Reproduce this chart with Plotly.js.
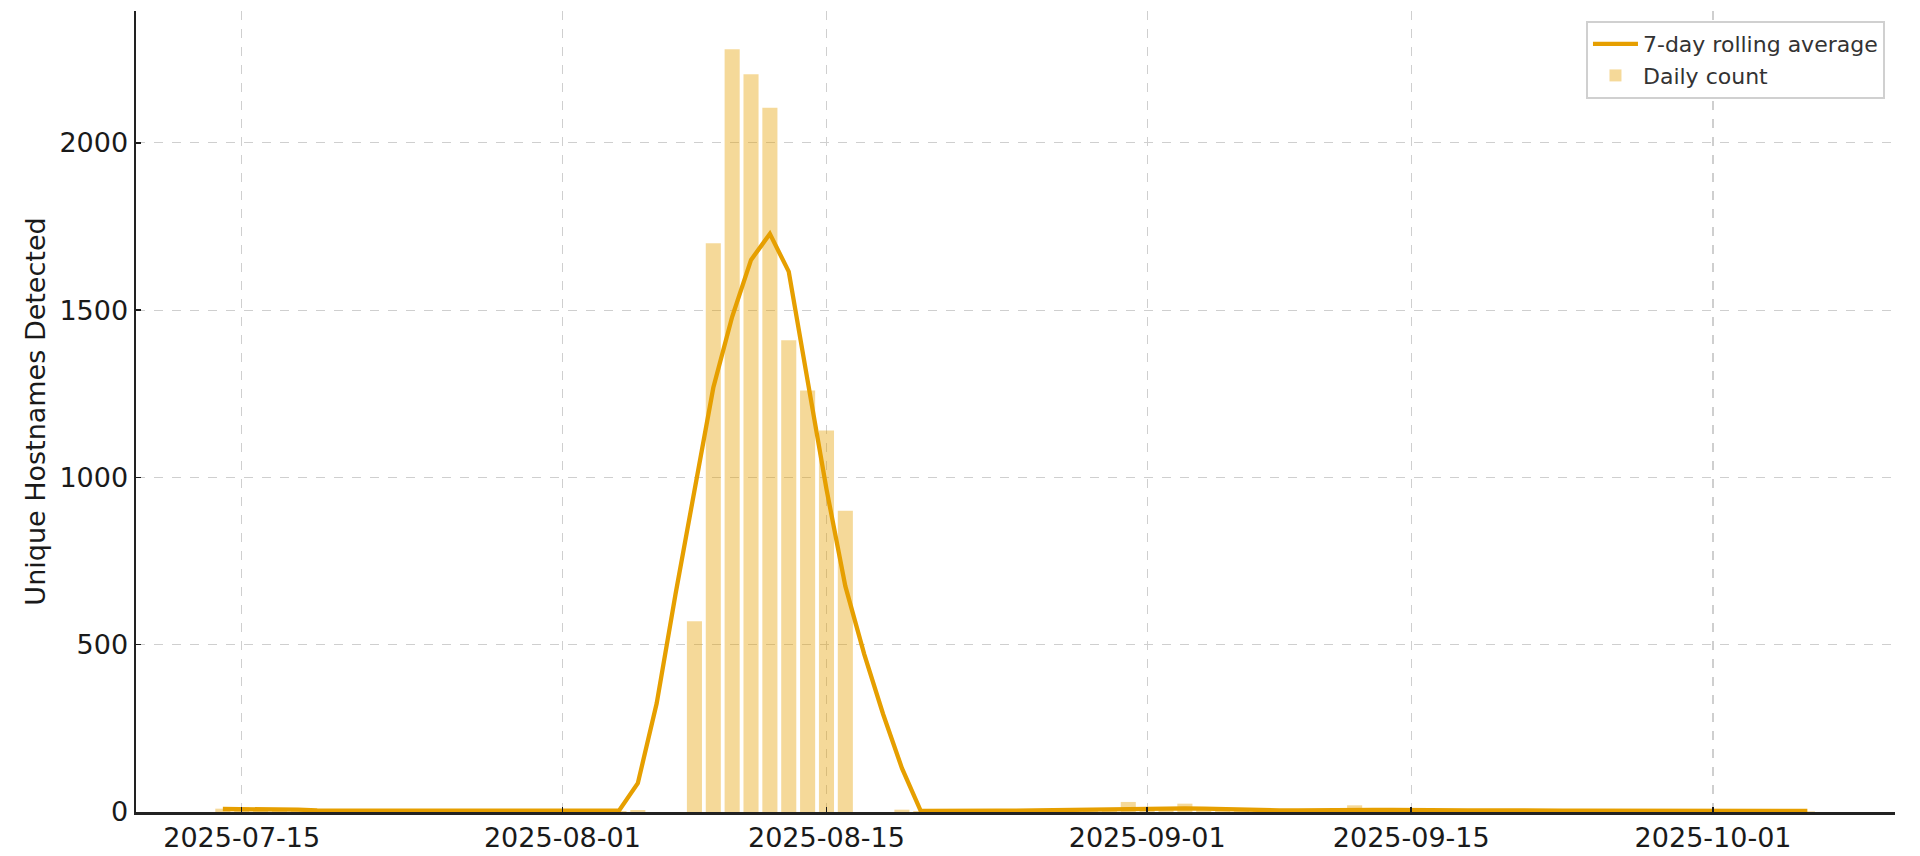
<!DOCTYPE html>
<html>
<head>
<meta charset="utf-8">
<script src="https://cdn.plot.ly/plotly-3.0.1.min.js"></script>
<style>
  html, body { margin: 0; padding: 0; background: #fff; }
  #chart { width: 1920px; height: 856px; }
</style>
</head>
<body>
<div id="chart"></div>
<script>
/*
 Data
*/

var days = [
  "2025-07-14","2025-07-15","2025-07-16","2025-07-17","2025-07-18","2025-07-19","2025-07-20",
  "2025-07-21","2025-07-22","2025-07-23","2025-07-24","2025-07-25","2025-07-26","2025-07-27",
  "2025-07-28","2025-07-29","2025-07-30","2025-07-31","2025-08-01","2025-08-02","2025-08-03",
  "2025-08-04","2025-08-05","2025-08-06","2025-08-07","2025-08-08","2025-08-09","2025-08-10",
  "2025-08-11","2025-08-12","2025-08-13","2025-08-14","2025-08-15","2025-08-16","2025-08-17",
  "2025-08-18","2025-08-19","2025-08-20","2025-08-21","2025-08-22","2025-08-23","2025-08-24",
  "2025-08-25","2025-08-26","2025-08-27","2025-08-28","2025-08-29","2025-08-30","2025-08-31",
  "2025-09-01","2025-09-02","2025-09-03","2025-09-04","2025-09-05","2025-09-06","2025-09-07",
  "2025-09-08","2025-09-09","2025-09-10","2025-09-11","2025-09-12","2025-09-13","2025-09-14",
  "2025-09-15","2025-09-16","2025-09-17","2025-09-18","2025-09-19","2025-09-20","2025-09-21",
  "2025-09-22","2025-09-23","2025-09-24","2025-09-25","2025-09-26","2025-09-27","2025-09-28",
  "2025-09-29","2025-09-30","2025-10-01","2025-10-02","2025-10-03","2025-10-04","2025-10-05",
  "2025-10-06"
];

var daily_count = [
  10, 14, 6, 6, 5, 4, 6,
  3, 3, 3, 2, 3, 2, 2,
  3, 2, 3, 4, 4, 5, 3,
  3, 6, 0, 0, 570, 1700, 2280,
  2205, 2105, 1410, 1260, 1140, 900, 0,
  0, 7, 3, 4, 2, 3, 3,
  4, 8, 6, 8, 10, 5, 30,
  6, 8, 25, 10, 6, 8, 4,
  5, 6, 3, 5, 20, 4, 5,
  3, 4, 6, 5, 4, 3, 5,
  4, 6, 3, 4, 5, 3, 6,
  5, 7, 6, 5, 4, 6, 3,
  2
];

var rolling_avg = [
  9, 9, 8, 8, 7, 5, 5,
  4, 3, 3, 3, 3, 3, 3,
  3, 3, 3, 4, 4, 4, 4,
  4, 86, 325, 652, 966, 1268, 1480,
  1650, 1728, 1615, 1289, 965, 675, 472,
  293, 131, 3, 4, 4, 4, 4,
  4, 5, 6, 7, 8, 8, 10,
  11, 12, 11, 10, 8, 7, 6,
  5, 5, 6, 6, 7, 6, 6,
  5, 4, 4, 5, 5, 4, 4,
  4, 4, 4, 4, 4, 5, 5,
  5, 5, 5, 5, 5, 4, 4,
  3
];

var tick_dates = ["2025-07-15","2025-08-01","2025-08-15","2025-09-01","2025-09-15","2025-10-01"];
var y_ticks = [0, 500, 1000, 1500, 2000];

/*
 Chart
*/

var ORANGE = "#E69F00";
var FONT = "DejaVu Sans, Liberation Sans, sans-serif";

var bars = {
  x: days,
  y: daily_count,
  type: "bar",
  name: "Daily count",
  width: 0.8 * 86400000,
  marker: { color: "rgba(230,159,0,0.4)", line: { width: 0 } },
  legendrank: 2
};

var line = {
  x: days,
  y: rolling_avg,
  type: "scatter",
  mode: "lines",
  name: "7-day rolling average",
  line: { color: ORANGE, width: 4.3 },
  legendrank: 1
};

var layout = {
  width: 1920,
  height: 856,
  margin: { l: 136, r: 25, t: 11, b: 44 },
  paper_bgcolor: "#fff",
  plot_bgcolor: "#fff",
  font: { family: FONT, size: 27, color: "#1a1a1a" },
  showlegend: true,
  legend: {
    x: 0.9943, xanchor: "right",
    y: 0.9875, yanchor: "top",
    bgcolor: "#fff",
    bordercolor: "#d0d0d0",
    borderwidth: 2,
    itemwidth: 45,
    font: { family: FONT, size: 22, color: "#333" }
  },
  xaxis: {
    type: "date",
    range: ["2025-07-09 09:30", "2025-10-10 15:30"],
    tickvals: tick_dates,
    ticktext: tick_dates,
    ticks: "inside",
    ticklen: 5,
    tickwidth: 1.5,
    tickcolor: "#1a1a1a",
    showline: true,
    linecolor: "#222",
    linewidth: 2.5,
    mirror: false,
    showgrid: true,
    gridcolor: "#cfcfcf",
    gridwidth: 1.2,
    griddash: "dash",
    zeroline: false
  },
  yaxis: {
    range: [0, 2394],
    tickvals: y_ticks,
    ticks: "inside",
    ticklen: 5,
    tickwidth: 1.5,
    tickcolor: "#1a1a1a",
    showline: true,
    linecolor: "#222",
    linewidth: 2.5,
    mirror: false,
    showgrid: true,
    gridcolor: "#cfcfcf",
    gridwidth: 1.2,
    griddash: "dash",
    zeroline: false,
    title: { text: "Unique Hostnames Detected", font: { family: FONT, size: 27, color: "#1a1a1a" }, standoff: 6 }
  }
};

var config = { displayModeBar: false, staticPlot: true };

Plotly.newPlot("chart", [bars, line], layout, config);
</script>
</body>
</html>
